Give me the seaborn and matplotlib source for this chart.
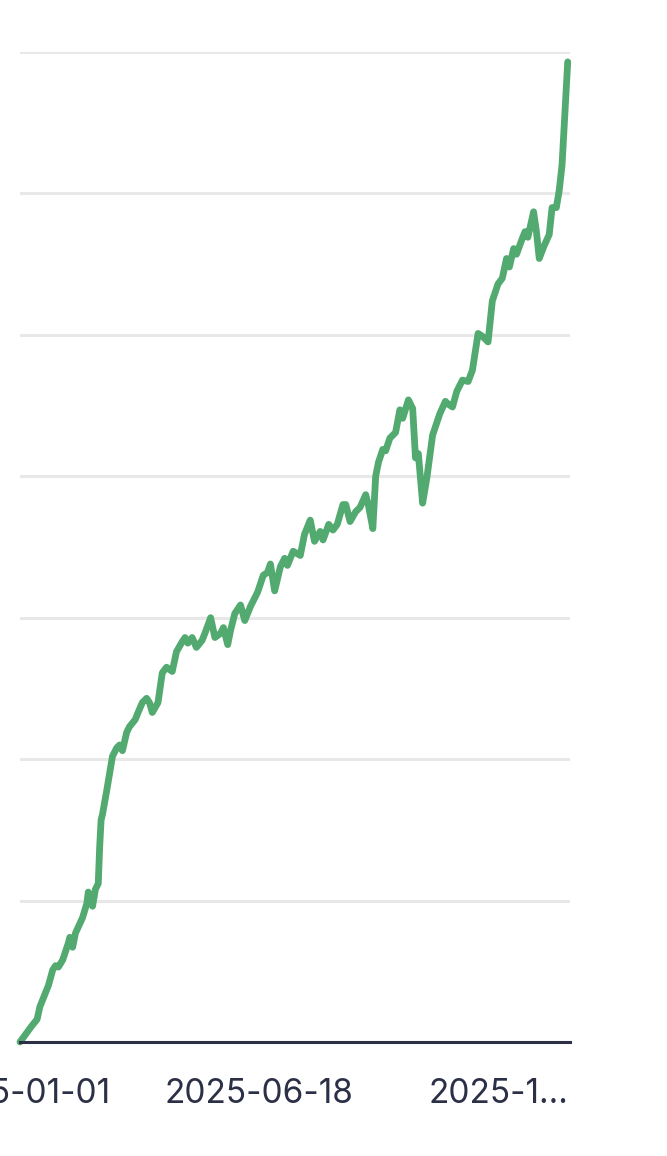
import numpy as np
import pandas as pd
import matplotlib
matplotlib.use("Agg")
import matplotlib.pyplot as plt
import seaborn as sns

# ---- data ----
start_date = "2025-01-01"
day_offsets = [0, 8, 12, 14, 18, 20, 23, 25, 27, 30, 34, 35, 37, 39, 44, 47, 48, 51, 53, 55,
               56, 57, 58, 61, 63, 65, 68, 70, 72, 75, 77, 81, 83, 86, 89, 91, 93, 97, 100, 103,
               107, 110, 114, 116, 118, 121, 124, 128, 130, 134, 137, 141, 143, 146, 148, 151, 155, 158, 162, 167,
               171, 174, 176, 179, 183, 186, 188, 192, 197, 200, 204, 207, 211, 213, 217, 220, 223, 227, 229, 232,
               236, 239, 243, 245, 248, 250, 252, 255, 257, 260, 264, 267, 269, 273, 276, 278, 280, 283, 286, 290,
               295, 299, 301, 304, 307, 311, 315, 318, 322, 325, 329, 332, 336, 339, 342, 344, 347, 349, 353, 355,
               357, 361, 363, 365, 368, 372, 374, 377, 379, 381, 383, 385]
values = [0.0, 1.1, 1.6, 2.5, 3.5, 4.0, 5.1, 5.4, 5.3, 5.8, 7.0, 7.4, 6.7, 7.7, 8.8, 9.8, 10.6, 9.6, 10.8, 11.2,
          13.8, 15.7, 16.1, 17.8, 19.0, 20.2, 20.8, 21.0, 20.6, 21.9, 22.3, 22.8, 23.3, 24.0, 24.3, 24.0, 23.3, 24.0, 26.1, 26.5,
          26.2, 27.6, 28.3, 28.6, 28.2, 28.6, 27.9, 28.4, 28.9, 30.0, 28.6, 28.9, 29.3, 28.1, 29.1, 30.3, 30.9, 29.8, 30.8, 31.8,
          33.0, 33.2, 33.8, 31.9, 33.6, 34.2, 33.7, 34.7, 34.4, 35.9, 36.9, 35.4, 36.1, 35.5, 36.6, 36.2, 36.6, 38.0, 38.0, 36.8,
          37.5, 37.8, 38.7, 37.9, 36.3, 40.0, 41.0, 41.9, 41.8, 42.7, 43.1, 44.7, 44.1, 45.4, 44.8, 41.3, 41.6, 38.1, 39.9, 42.9,
          44.4, 45.3, 45.1, 44.9, 46.0, 46.8, 46.7, 47.5, 50.1, 49.9, 49.5, 52.4, 53.6, 54.0, 55.4, 54.8, 56.1, 55.7, 56.8, 57.3,
          56.9, 58.7, 57.3, 55.4, 56.2, 57.1, 59.0, 59.0, 60.2, 62.0, 65.6, 69.3]
tick_dates = ["2025-01-01", "2025-06-18", "2025-12-03"]
tick_labels = ["2025-01-01", "2025-06-18", "2025-1..."]
y_grid = [0, 10, 20, 30, 40, 50, 60, 70]

dates = pd.to_datetime(start_date) + pd.to_timedelta(day_offsets, unit="D")
df = pd.DataFrame({"date": dates, "value": values})

# ---- style ----
sns.set_style("white")
plt.rcParams["font.family"] = ["Inter", "DejaVu Sans"]

W, H = 667, 1156
fig = plt.figure(figsize=(W / 100, H / 100), dpi=100)
ax = fig.add_axes([20 / W, (H - 1042) / H, 550 / W, (1042 - 52) / H])

line_color = "#52aa70"
text_color = "#2b3046"

sns.lineplot(data=df, x="date", y="value", ax=ax, color=line_color, linewidth=4.9,
             solid_capstyle="round", solid_joinstyle="round", clip_on=False, zorder=3)

ax.set_xlim(pd.to_datetime(start_date), pd.to_datetime(start_date) + pd.Timedelta(days=386.6))
ax.set_ylim(0, 70)

ax.set_yticks(y_grid)
ax.set_yticklabels([])
ax.tick_params(axis="y", length=0)
ax.yaxis.grid(True, color="#e8e8e8", linewidth=2.2)
ax.xaxis.grid(False)
ax.set_axisbelow(True)

ax.set_xticks(pd.to_datetime(tick_dates))
ax.set_xticklabels(tick_labels)
ax.tick_params(axis="x", length=0, pad=26, labelsize=24, labelcolor=text_color)

for s in ["top", "right", "left"]:
    ax.spines[s].set_visible(False)
ax.spines["bottom"].set_color(text_color)
ax.spines["bottom"].set_linewidth(2.2)
ax.spines["bottom"].set_zorder(4)

ax.set_xlabel("")
ax.set_ylabel("")

fig.savefig("out.png", dpi=100)
